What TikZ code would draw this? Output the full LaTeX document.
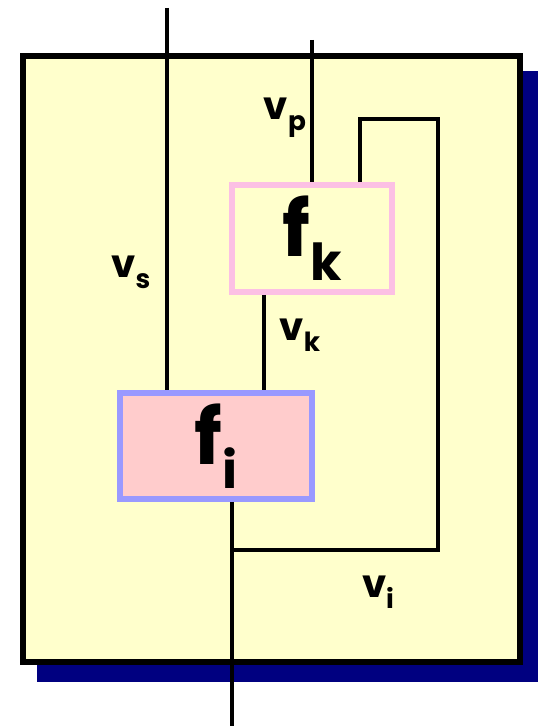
\documentclass[tikz,border=0pt]{standalone}
\usepackage{fontspec}
\setmainfont{Poppins}
\usepackage{xcolor}
\usepackage{tikz}
\usetikzlibrary{positioning}

\definecolor{paper}{HTML}{FFFFCC}
\definecolor{navyshadow}{HTML}{000080}
\definecolor{fifill}{HTML}{FFCCCC}
\definecolor{fiedge}{HTML}{9999FF}
\definecolor{fkedge}{HTML}{FCC0E4}

\newcommand\sig[2]{#1\raisebox{-0.5ex}{\fontsize{15}{15}\selectfont #2}}
\newcommand\fun[2]{#1\raisebox{-0.55ex}{\fontsize{29}{29}\selectfont #2}}

\begin{document}
\begin{tikzpicture}[
  x=0.02cm,y=-0.02cm,
  wire/.style={draw=black,line width=2.7pt},
  fbox/.style={rectangle,line width=3.2pt,inner sep=0pt,
    font=\fontsize{44}{44}\selectfont\bfseries},
  sigl/.style={font=\fontsize{22}{22}\selectfont\bfseries,inner sep=0pt}
]
\useasboundingbox (0,0) rectangle (539,726);
\fill[navyshadow] (37,71) rectangle (538,682);
\draw[line width=3.4pt,fill=paper] (23,56) rectangle (520,662);
\node[fbox,draw=fkedge,fill=paper,minimum width=3.2cm,minimum height=2.14cm]
  (fk) at (312,238.5) {\fun{f}{k}};
\node[fbox,draw=fiedge,fill=fifill,minimum width=3.84cm,minimum height=2.12cm]
  (fi) at (216,446) {\fun{f}{i}};
\coordinate (stop) at (167,8);
\coordinate (ptop) at (312,40);
\coordinate (loopl) at (360,119);
\coordinate (loopr) at (438,119);
\coordinate (kwire) at (264,340);
\coordinate (join) at (232,550);
\coordinate (out) at (232,726);
\draw[wire] (stop) -- (stop |- fi.north);
\draw[wire] (ptop) -- (fk.north -| ptop);
\draw[wire] (fk.north -| loopl) -- (loopl) -- (loopr) -- (loopr |- join) -- (join);
\draw[wire] (fk.south -| kwire) -- (fi.north -| kwire);
\draw[wire] (fi.south -| out) -- (out);
\node[sigl] (vp) at (285,118) {\sig{v}{p}};
\node[sigl] (vs) at (131,272) {\sig{v}{s}};
\node[sigl] (vk) at (300,335) {\sig{v}{k}};
\node[sigl] (vi) at (378,592) {\sig{v}{i}};
\end{tikzpicture}
\end{document}
